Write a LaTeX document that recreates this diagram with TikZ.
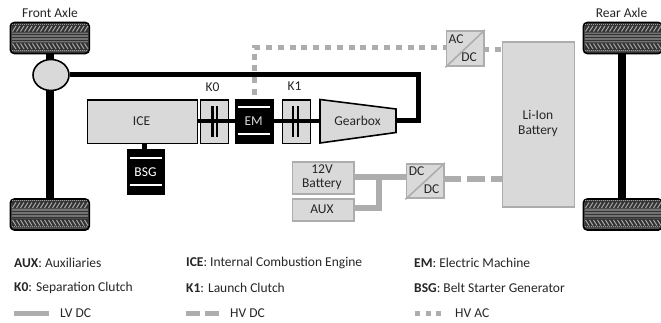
\documentclass[tikz,border=0pt]{standalone}
\usepackage{fontspec}
\usetikzlibrary{shapes.geometric}
\setmainfont{Carlito}
\definecolor{boxgray}{HTML}{D9D9D9}
\definecolor{elgray}{HTML}{ADADAD}
\definecolor{txtgray}{HTML}{262626}
\tikzset{
  every node/.style={font=\fontsize{13.5}{14}\selectfont,text=txtgray},
  mechbox/.style={draw=black,line width=1.4pt,fill=boxgray,inner sep=0pt},
  elbox/.style={draw=elgray,line width=1.8pt,fill=boxgray,inner sep=0pt},
  blackbox/.style={draw=black,fill=black,inner sep=0pt},
  shaft/.style={draw=black,line width=5pt},
  thinshaft/.style={draw=black,line width=3.5pt},
  axle/.style={draw=black,line width=7.5pt},
  plate/.style={draw=black,line width=2.6pt},
  lvdc/.style={draw=elgray,line width=5.5pt},
  hvdc/.style={draw=elgray,line width=5.5pt,dash pattern=on 18pt off 6pt},
  hvac/.style={draw=elgray,line width=5.5pt,dash pattern=on 6pt off 5.8pt},
  legend/.style={anchor=west,inner sep=0pt},
  tyre/.style={draw=black,line width=1.6pt,fill=black!70,rounded corners=4pt,inner sep=0pt},
}
\newcommand{\tyre}[3]{% name, left x, top y
  \node[tyre,minimum width=79pt,minimum height=31pt,anchor=north west] (#1) at (#2,#3+.7) {};
  \begin{scope}[shift={(#2,#3)}]
    \fill[black!55] (2,12) rectangle (78,21);
    \foreach \yy in {13.5,16.5,19.5} \draw[black!80,line width=.7pt] (2,\yy) -- (78,\yy);
    \fill[black!80] (2,3.5) rectangle (78,11);
    \fill[black!80] (2,22) rectangle (78,29);
    \foreach \xx in {3,7,...,75} {
      \draw[white!65!black,line width=1pt] (\xx,10.5) -- (\xx+3.5,5);
      \draw[white!65!black,line width=1pt] (\xx,22.5) -- (\xx+3.5,28);
    }
    \draw[white!60!black,line width=.9pt,dash pattern=on 1pt off 1pt] (2,3.2) -- (78,3.2);
    \draw[white!60!black,line width=.9pt,dash pattern=on 1pt off 1pt] (2,29.2) -- (78,29.2);
  \end{scope}
}
\newcommand{\boxat}[6]{% style,name,x0,y0,x1,y1
  \node[#1,minimum width=#5pt-#3pt,minimum height=#6pt-#4pt,anchor=north west] (#2) at (#3,#4) {};
}
\begin{document}
\begin{tikzpicture}[x=1pt,y=-1pt]
\useasboundingbox[fill=white] (0,0) rectangle (661,323);
% axles
\coordinate (ftop) at (50,53); \coordinate (fbot) at (50,198);
\coordinate (rtop) at (622,53); \coordinate (rbot) at (622,198);
\draw[axle] (ftop) -- (fbot);
\draw[axle] (rtop) -- (rbot);
% wheels
\tyre{fl}{9.5}{21}
\tyre{fr}{9.5}{197.5}
\tyre{rl}{582.5}{21}
\tyre{rr}{582.5}{197.5}
\node[inner sep=0pt] (fa) at (50,13) {Front Axle};
\node[inner sep=0pt] (ra) at (621.5,13) {Rear Axle};
% differential + propshaft
\coordinate (c1) at (418,75); \coordinate (c2) at (418,120.5);
\coordinate (gbE) at (396,120.5); \coordinate (gbW) at (320,121);
\node[draw=black,line width=1.6pt,fill=boxgray,ellipse,minimum width=36pt,minimum height=31pt,inner sep=0pt] (diff) at (51,75) {};
% HV AC dotted line
\coordinate (hv1) at (254.5,95); \coordinate (hv2) at (254.5,47.5); \coordinate (hv3) at (446,47.5);
\draw[hvac] (hv1) -- (hv2) -- (hv3);
\draw[shaft] (diff.east) -- (c1) -- (c2) -- (gbE);
% boxes
\boxat{mechbox}{ice}{86.5}{99.5}{197}{143}
\boxat{mechbox}{k0}{199.5}{99.5}{228}{143}
\boxat{mechbox}{k1}{282}{99.5}{310}{143}
\boxat{blackbox}{em}{235}{99}{272.5}{143.5}
\boxat{blackbox}{bsg}{127}{149.5}{164}{194}
\draw[mechbox,line width=1.6pt] (320,99.5) -- (396,109) -- (396,132.5) -- (320,143) -- cycle;
% shafts
\coordinate (iceE) at (197,121); \coordinate (emW) at (235,121); \coordinate (emE) at (272.5,121);
\coordinate (bsgN) at (144,149.5); \coordinate (iceS) at (144,143);
\draw[thinshaft] (iceE) -- (emW);
\draw[thinshaft] (emE) -- (gbW);
\draw[shaft] (iceS) -- (bsgN);
% clutch plates
\foreach \xa/\xb in {212.5/217,293/298} {
  \draw[plate] (\xa,106) -- (\xa,137.5);
  \draw[plate] (\xb,106) -- (\xb,137.5);
}
% white bars
\foreach \bx/\ya/\yb in {253.7/107.5/134.5,145.5/158.5/185.5} {
  \draw[white,line width=2pt] (\bx-16,\ya) -- (\bx+16,\ya);
  \draw[white,line width=2pt] (\bx-16,\yb) -- (\bx+16,\yb);
}
% labels
\node[inner sep=0pt] (iceL) at (141.5,121) {ICE};
\node[inner sep=0pt,text=boxgray] (emL) at (253.7,121) {EM};
\node[inner sep=0pt,text=white] (bsgL) at (145.5,172) {BSG};
\node[inner sep=0pt] (gbL) at (357.5,121) {Gearbox};
\node[inner sep=0pt] (k0L) at (212.5,87.5) {K0};
\node[inner sep=0pt] (k1L) at (294.5,86) {K1};
% electrical
\boxat{elbox}{bat}{291.5}{161.5}{353}{193}
\boxat{elbox}{aux}{291.5}{198.5}{353}{220.5}
\boxat{elbox}{dcdc}{405.5}{163}{443}{197.5}
\boxat{elbox}{acdc}{445.5}{30}{483}{65.5}
\boxat{elbox}{li}{501.5}{41.5}{573.5}{206.5}
\draw[elgray,line width=1.6pt] (dcdc.south west) -- (dcdc.north east);
\draw[elgray,line width=1.6pt] (acdc.south west) -- (acdc.north east);
\node[inner sep=0pt,align=center,font=\fontsize{13.5}{13.5}\selectfont] (batL) at (322,177) {12V\\Battery};
\node[inner sep=0pt] (auxL) at (322,209.5) {AUX};
\node[inner sep=0pt] (dcA) at (416.5,171) {DC};
\node[inner sep=0pt] (dcB) at (431.5,189) {DC};
\node[inner sep=0pt] (acA) at (456,39) {AC};
\node[inner sep=0pt] (acB) at (469,57.5) {DC};
\node[inner sep=0pt,align=center,font=\fontsize{13.5}{14.5}\selectfont] (liL) at (538,123.5) {Li-Ion\\Battery};
\coordinate (lv1) at (353,177); \coordinate (lv2) at (405.5,177);
\coordinate (lv3) at (353,208); \coordinate (lv4) at (379,208); \coordinate (lv5) at (379,177);
\coordinate (hd1) at (443,179); \coordinate (hd2) at (501.5,179);
\coordinate (ha1) at (483,49.5); \coordinate (ha2) at (501.5,49.5);
\draw[lvdc] (lv1) -- (lv2);
\draw[lvdc] (lv3) -- (lv4) -- (lv5);
\draw[hvdc] (hd1) -- (hd2);
\draw[hvac] (ha1) -- (ha2);
% legend
\node[legend] (l1) at (14,263) {\textbf{AUX}: Auxiliaries};
\node[legend] (l2) at (14,287.5) {\textbf{K0}: Separation Clutch};
\node[legend] (l3) at (186,263) {\textbf{ICE}: Internal Combustion Engine};
\node[legend] (l4) at (186,287.5) {\textbf{K1}: Launch Clutch};
\node[legend] (l5) at (414,263) {\textbf{EM}: Electric Machine};
\node[legend] (l6) at (414,287.5) {\textbf{BSG}: Belt Starter Generator};
\coordinate (a1) at (14,313); \coordinate (a2) at (49,313);
\coordinate (b1) at (186,313); \coordinate (b2) at (221,313);
\coordinate (d1) at (415,313); \coordinate (d2) at (445,313);
\draw[draw=elgray,line width=5pt] (a1) -- (a2);
\draw[draw=elgray,line width=5pt,dash pattern=on 14pt off 5pt] (b1) -- (b2);
\draw[draw=elgray,line width=5pt,dash pattern=on 5pt off 5.5pt] (d1) -- (d2);
\node[legend] (l7) at (60,313) {LV DC};
\node[legend] (l8) at (230,313) {HV DC};
\node[legend] (l9) at (455,313) {HV AC};
\end{tikzpicture}
\end{document}
